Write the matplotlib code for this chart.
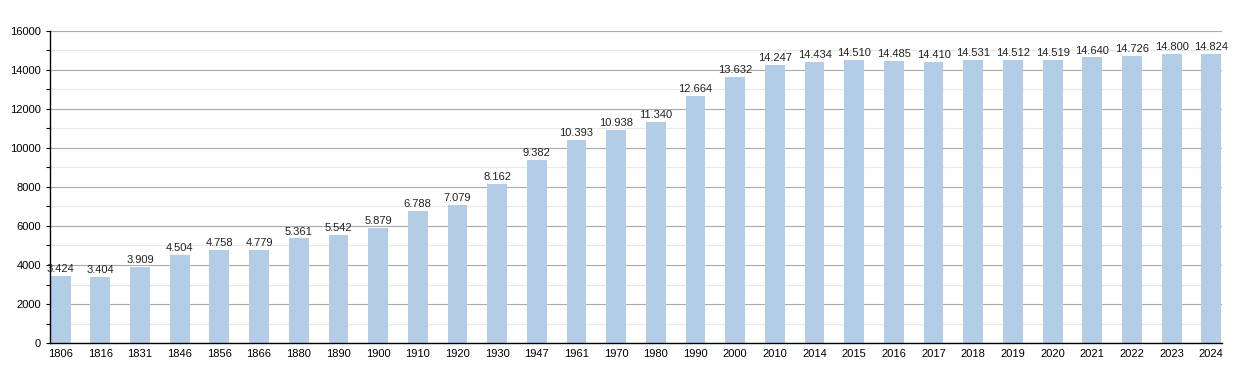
import matplotlib.pyplot as plt
import numpy as np
from matplotlib.ticker import MultipleLocator

plt.rcParams["font.family"] = ["Liberation Sans", "DejaVu Sans"]

years = ["1806", "1816", "1831", "1846", "1856", "1866", "1880", "1890", "1900",
         "1910", "1920", "1930", "1947", "1961", "1970", "1980", "1990", "2000",
         "2010", "2014", "2015", "2016", "2017", "2018", "2019", "2020", "2021",
         "2022", "2023", "2024"]
population = [3424, 3404, 3909, 4504, 4758, 4779, 5361, 5542, 5879,
              6788, 7079, 8162, 9382, 10393, 10938, 11340, 12664, 13632,
              14247, 14434, 14510, 14485, 14410, 14531, 14512, 14519, 14640,
              14726, 14800, 14824]

fig = plt.figure(figsize=(12.5, 3.73), dpi=100)
ax = fig.add_axes([0.04, 0.0804, 0.9376, 0.8366])

x = np.arange(len(years))
ax.bar(x, population, width=0.5, color="#b3cde6", zorder=2)

for xi, v in zip(x, population):
    label = f"{v:,}".replace(",", ".")
    ax.text(xi, v + 100, label, ha="center", va="bottom", fontsize=8,
            color="#222222", zorder=3)

ax.set_xlim(-0.27, len(years) - 0.73)
ax.set_ylim(0, 16000)
ax.set_xticks(x)
ax.set_xticklabels(years, fontsize=8)
ax.yaxis.set_major_locator(MultipleLocator(2000))
ax.yaxis.set_minor_locator(MultipleLocator(1000))
ax.tick_params(axis="y", labelsize=8, length=3, width=0.8)
ax.tick_params(axis="y", which="minor", length=3, width=0.8)
ax.tick_params(axis="x", length=0, pad=4)

ax.grid(axis="y", which="major", color="#aaaaaa", linewidth=0.8, zorder=0)
ax.grid(axis="y", which="minor", color="#e8e8e8", linewidth=0.8, zorder=0)
ax.set_axisbelow(True)

for side in ("top", "right"):
    ax.spines[side].set_visible(False)
ax.spines["left"].set_linewidth(1.0)
ax.spines["bottom"].set_linewidth(1.0)

fig.savefig("out.png", dpi=100)
